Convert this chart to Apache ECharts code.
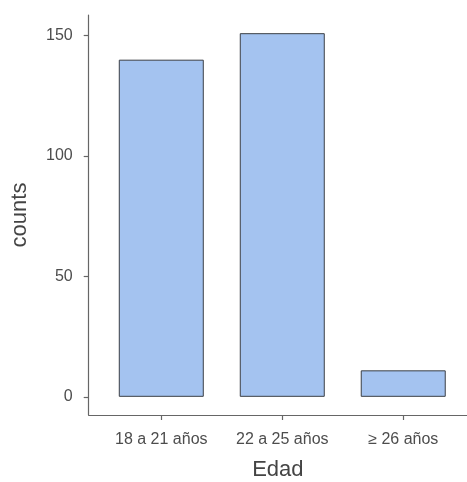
<!DOCTYPE html>
<html>
<head>
<meta charset="utf-8">
<script src="https://cdn.jsdelivr.net/npm/echarts@6/dist/echarts.min.js"></script>
<style>html,body{margin:0;padding:0;background:#fff}#c{width:467px;height:482px}</style>
</head>
<body>
<div id="c"></div>
<script>
var categories = ["18 a 21 años", "22 a 25 años", "≥ 26 años"];
var counts = [140, 151, 11];
var yTicks = [0, 50, 100, 150];
var xPositions = [1, 2, 3];

var chart = echarts.init(document.getElementById('c'), null, {renderer: 'canvas'});
var font = 'Liberation Sans, Arial, sans-serif';
var axisColor = '#666666';
chart.setOption({
  animation: false,
  grid: {left: 88.7, right: 0, top: 15, bottom: 67, outerBoundsMode: 'none', containLabel: false},
  xAxis: {
    type: 'value',
    min: 0.4, max: 3.527,
    name: 'Edad',
    nameLocation: 'middle',
    nameGap: 44,
    nameTextStyle: {fontFamily: font, fontSize: 22, color: '#444444'},
    splitLine: {show: false},
    axisLine: {show: true, onZero: false, lineStyle: {color: axisColor, width: 1.2}},
    axisTick: {show: true, customValues: xPositions, length: 5, lineStyle: {color: axisColor, width: 1.2}},
    axisLabel: {
      customValues: xPositions, margin: 17,
      fontFamily: font, fontSize: 16, color: '#4d4d4d',
      formatter: function (v) { return categories[Math.round(v) - 1] || ''; }
    }
  },
  yAxis: {
    type: 'value',
    min: -7.55, max: 158.55,
    name: 'counts',
    nameLocation: 'middle',
    nameRotate: 90,
    nameGap: 58,
    nameTextStyle: {fontFamily: font, fontSize: 22, color: '#444444'},
    splitLine: {show: false},
    axisLine: {show: true, onZero: false, lineStyle: {color: axisColor, width: 1.2}},
    axisTick: {show: true, customValues: yTicks, length: 5, lineStyle: {color: axisColor, width: 1.2}},
    axisLabel: {customValues: yTicks, margin: 16, fontFamily: font, fontSize: 16, color: '#4d4d4d'}
  },
  series: [{
    type: 'bar',
    data: xPositions.map(function (x, i) { return [x, counts[i]]; }),
    barWidth: 85,
    itemStyle: {color: '#a4c3f0', borderColor: '#3b3f45', borderWidth: 1}
  }]
});
</script>
</body>
</html>
